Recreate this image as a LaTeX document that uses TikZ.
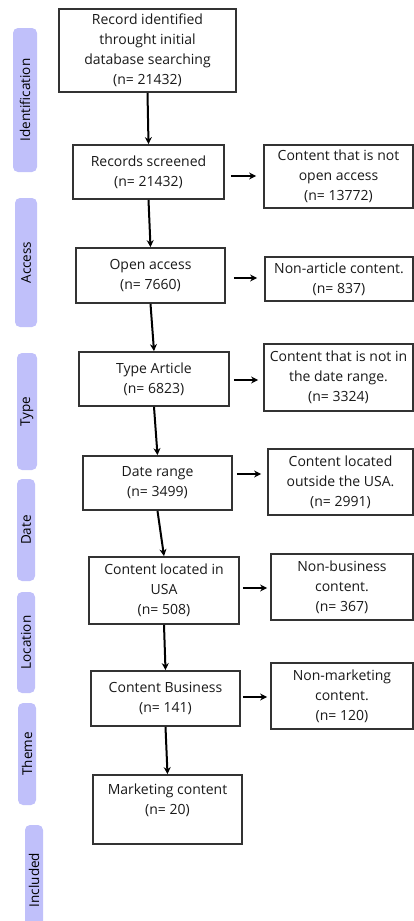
\documentclass[tikz,border=0pt]{standalone}
\usepackage{fontspec}
\setmainfont{Open Sans}
\usetikzlibrary{arrows.meta}
\definecolor{stagefill}{RGB}{192,192,250}
\definecolor{boxline}{RGB}{51,51,51}

\begin{document}
\begin{tikzpicture}[x=1pt, y=-1pt,
  box/.style={draw=boxline, line width=1.8pt, align=center, inner sep=2pt,
    font=\fontsize{14}{20}\selectfont, text=black!90},
  stage/.style={fill=stagefill, rounded corners=5pt, rotate=90, inner sep=0pt,
    font=\fontsize{13.5}{15}\selectfont},
  hop/.style={-{Stealth[length=7pt,width=7pt]}, line width=2pt}]
\useasboundingbox (0,0) rectangle (414,921);
\clip (0,0) rectangle (414,921);

\node[stage, minimum width=144, minimum height=24] (sIdent) at (25, 100) {Identification};
\node[stage, minimum width=129, minimum height=22] (sAccess) at (26, 262.5) {Access};
\node[stage, minimum width=117, minimum height=20] (sType) at (27, 411.5) {Type};
\node[stage, minimum width=102, minimum height=18] (sDate) at (26, 530) {Date};
\node[stage, minimum width=101, minimum height=18] (sLoc) at (26, 642.5) {Location};
\node[stage, minimum width=102, minimum height=18] (sTheme) at (27, 754) {Theme};
\node[stage, minimum width=110, minimum height=18] (sIncl) at (34, 880) {Included};

\node[box, minimum width=177, minimum height=83] (rec) at (147.5, 50.5) {Record identified\\throught initial\\database searching\\(n= 21432)};
\node[box, minimum width=151, minimum height=54] (scr) at (148.5, 172) {Records screened\\(n= 21432)};
\node[box, minimum width=149, minimum height=55] (open) at (150.5, 275.5) {Open access\\(n= 7660)};
\node[box, minimum width=150, minimum height=54] (art) at (154, 379) {Type Article\\(n= 6823)};
\node[box, minimum width=149, minimum height=54] (date) at (157.5, 483) {Date range\\(n= 3499)};
\node[box, minimum width=150, minimum height=67] (usa) at (164, 590.5) {Content located in\\USA\\(n= 508)};
\node[box, minimum width=149, minimum height=55] (bus) at (165.5, 698.5) {Content Business\\(n= 141)};
\node[box, minimum width=149, minimum height=69] (mkt) at (167.5, 809.5) {Marketing content\\(n= 20)\\\mbox{}};

\node[box, minimum width=149, minimum height=63] (xOpen) at (338.5, 176.5) {Content that is not\\open access\\(n= 13772)};
\node[box, minimum width=148, minimum height=44] (xArt) at (339, 279) {Non-article content.\\(n= 837)};
\node[box, minimum width=149, minimum height=67] (xDate) at (338.5, 377.5) {Content that is not in\\the date range.\\(n= 3324)};
\node[box, minimum width=145, minimum height=66] (xUsa) at (340.5, 482) {Content located\\outside the USA.\\(n= 2991)};
\node[box, minimum width=142, minimum height=66] (xBus) at (342, 587) {Non-business\\content.\\(n= 367)};
\node[box, minimum width=142, minimum height=66] (xMkt) at (342, 696) {Non-marketing\\content.\\(n= 120)};

\draw[hop] (rec.south) -- (scr.north);
\draw[hop] (scr.south) -- (open.north);
\draw[hop] (open.south) -- (art.north);
\draw[hop] (art.south) -- (date.north);
\draw[hop] (date.south) -- (usa.north);
\draw[hop] (usa.south) -- (bus.north);
\draw[hop] (bus.south) -- (mkt.north);

\draw[hop, shorten <=6pt, shorten >=7pt] ([yshift=-4pt]scr.east) -- ([yshift=-4pt]scr.east -| xOpen.west);
\draw[hop, shorten <=8pt, shorten >=7pt] ([yshift=-2.5pt]open.east) -- ([yshift=-2.5pt]open.east -| xArt.west);
\draw[hop, shorten <=4pt, shorten >=5pt] ([yshift=-1pt]art.east) -- ([yshift=-1pt]art.east -| xDate.west);
\draw[hop, shorten <=4pt, shorten >=6pt] ([yshift=9pt]date.east) -- ([yshift=9pt]date.east -| xUsa.west);
\draw[hop, shorten <=3pt, shorten >=3pt] ([yshift=2.5pt]usa.east) -- ([yshift=2.5pt]usa.east -| xBus.west);
\draw[hop, shorten <=2pt, shorten >=3pt] ([yshift=1.5pt]bus.east) -- ([yshift=1.5pt]bus.east -| xMkt.west);
\end{tikzpicture}
\end{document}
